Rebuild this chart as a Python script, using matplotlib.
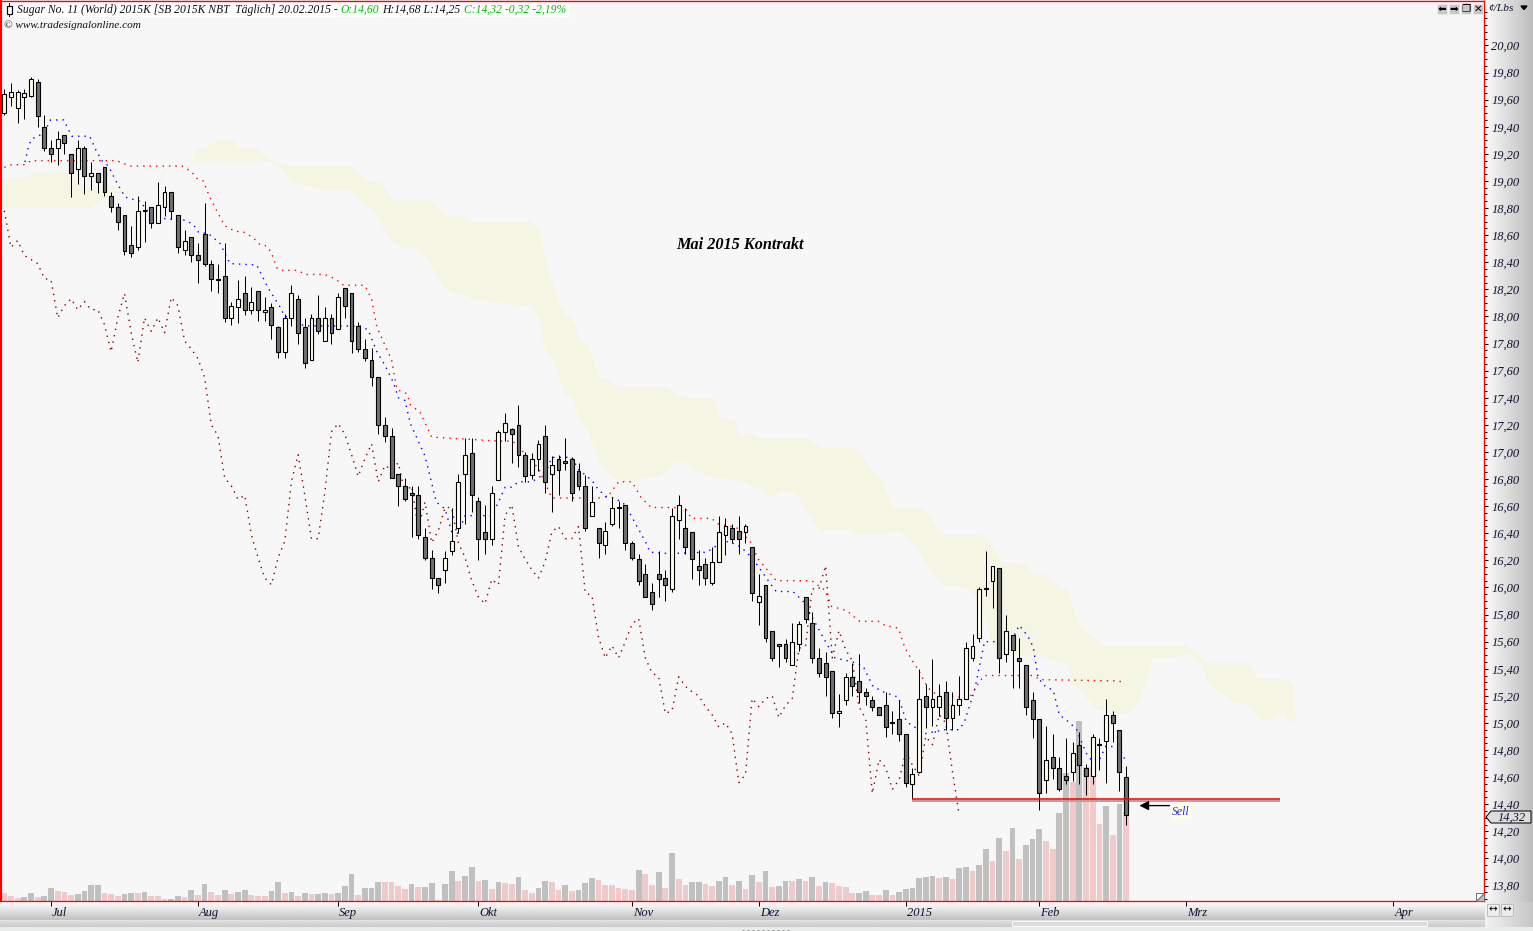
#!/usr/bin/env python
import numpy as np
import matplotlib
matplotlib.use("Agg")
import matplotlib.pyplot as plt
from matplotlib.patches import Polygon, Rectangle
from matplotlib.ticker import FixedLocator, FuncFormatter
from matplotlib.transforms import ScaledTranslation

plt.rcParams['font.family'] = ['Liberation Serif', 'DejaVu Sans']

# daily candles, cents per pound
opens = [19.50,19.62,19.54,19.62,19.63,19.73,19.40,19.24,19.24,19.34,
         19.20,19.09,19.24,19.04,19.06,19.10,18.89,18.81,18.75,18.53,
         18.51,18.78,18.81,18.69,18.81,18.92,18.75,18.49,18.59,18.45,
         18.61,18.39,18.28,18.30,17.99,18.07,18.17,18.05,18.19,18.03,
         18.07,17.92,17.74,17.99,18.13,17.92,17.68,17.99,17.82,17.99,
         17.91,18.21,18.17,17.93,17.76,17.68,17.55,17.20,17.12,16.84,
         16.75,16.70,16.68,16.37,16.22,16.07,16.13,16.27,16.44,16.84,
         16.99,16.64,16.41,16.36,16.79,17.15,17.17,17.20,16.98,16.83,
         16.95,17.12,16.84,16.95,16.93,16.95,16.86,16.75,16.53,16.44,
         16.31,16.47,16.59,16.61,16.33,16.21,16.10,15.97,16.10,16.07,
         15.99,16.50,16.44,16.41,16.16,16.17,16.03,16.19,16.39,16.44,
         16.42,16.41,16.30,15.89,16.02,15.68,15.58,15.58,15.43,15.58,
         15.93,15.74,15.48,15.44,15.38,15.07,15.17,15.34,15.31,15.23,
         15.17,15.12,15.13,15.01,15.03,14.92,14.55,14.64,15.20,15.12,
         15.12,15.23,15.04,15.13,15.18,15.48,15.63,15.99,16.05,16.14,
         15.51,15.65,15.48,15.43,15.17,15.03,14.58,14.75,14.67,14.61,
         14.64,14.84,14.67,14.61,14.84,14.87,15.06,14.95,14.60]
highs = [19.68,19.72,19.67,19.68,19.77,19.75,19.49,19.30,19.37,19.34,
         19.20,19.30,19.26,19.14,19.06,19.10,18.92,18.84,18.75,18.67,
         18.89,18.85,18.81,18.99,18.96,18.92,18.75,18.64,18.59,18.54,
         18.84,18.42,18.39,18.54,18.11,18.27,18.30,18.22,18.19,18.14,
         18.10,17.93,18.02,18.23,18.16,17.99,18.02,18.16,18.07,18.02,
         18.17,18.21,18.17,17.96,17.83,17.77,17.55,17.26,17.18,16.84,
         16.81,16.75,16.75,16.44,16.28,16.07,16.27,16.59,16.84,17.10,
         17.10,16.67,16.61,16.75,17.16,17.29,17.18,17.35,17.00,16.99,
         17.09,17.20,16.97,16.98,17.10,16.96,16.92,16.83,16.75,16.44,
         16.48,16.67,16.64,16.61,16.34,16.25,16.17,16.03,16.27,16.13,
         16.59,16.68,16.59,16.41,16.28,16.22,16.30,16.53,16.51,16.47,
         16.53,16.47,16.30,16.10,16.02,15.68,15.58,15.62,15.74,15.75,
         15.93,15.82,15.55,15.52,15.38,15.21,15.37,15.44,15.51,15.26,
         15.20,15.12,15.23,15.09,15.17,14.92,14.67,15.40,15.29,15.47,
         15.29,15.31,15.23,15.35,15.60,15.66,16.00,16.27,16.16,16.14,
         15.80,15.65,15.63,15.43,15.23,15.03,14.98,14.92,14.75,14.89,
         14.86,14.93,14.70,14.92,14.89,15.18,15.09,14.95,14.68]
lows = [19.49,19.55,19.43,19.46,19.62,19.40,19.22,19.14,19.12,19.20,
        18.88,18.98,18.90,18.93,18.91,18.89,18.77,18.64,18.45,18.44,
        18.49,18.55,18.65,18.69,18.74,18.72,18.47,18.45,18.40,18.25,
        18.37,18.19,18.17,17.96,17.94,17.95,18.01,18.02,17.97,17.97,
        17.83,17.69,17.69,17.93,17.80,17.62,17.68,17.87,17.82,17.80,
        17.91,17.99,17.73,17.74,17.67,17.49,17.13,17.07,16.81,16.60,
        16.64,16.37,16.36,16.20,15.99,15.96,16.03,16.24,16.40,16.47,
        16.56,16.20,16.25,16.31,16.79,17.08,16.92,16.89,16.78,16.80,
        16.86,16.70,16.56,16.68,16.87,16.64,16.72,16.42,16.53,16.22,
        16.25,16.45,16.44,16.28,16.20,16.02,15.93,15.83,15.93,15.90,
        15.97,16.36,16.25,16.06,16.02,16.02,16.02,16.19,16.24,16.33,
        16.25,16.33,15.90,15.72,15.60,15.46,15.41,15.45,15.43,15.53,
        15.74,15.44,15.34,15.20,15.04,14.97,15.13,15.20,15.15,15.13,
        15.09,15.06,14.90,14.92,14.87,14.53,14.44,14.63,14.96,14.98,
        15.05,14.95,14.95,15.06,15.18,15.46,15.60,15.94,15.85,15.37,
        15.45,15.26,15.26,15.06,14.89,14.36,14.48,14.59,14.50,14.55,
        14.57,14.55,14.47,14.55,14.65,14.56,14.86,14.50,14.25]
closes = [19.64,19.66,19.66,19.65,19.75,19.48,19.24,19.20,19.31,19.28,
          19.06,19.24,19.04,19.06,18.99,18.92,18.81,18.70,18.48,18.47,
          18.78,18.78,18.69,18.82,18.92,18.78,18.51,18.56,18.45,18.42,
          18.39,18.28,18.27,17.99,18.08,18.13,18.05,18.11,18.05,18.05,
          17.94,17.74,17.99,18.17,17.88,17.66,17.99,17.89,17.99,17.88,
          18.14,18.08,17.82,17.76,17.69,17.55,17.20,17.12,16.81,16.75,
          16.65,16.68,16.39,16.22,16.07,16.02,16.22,16.34,16.78,16.98,
          16.68,16.36,16.36,16.70,17.15,17.21,17.13,16.98,16.82,16.95,
          17.06,16.78,16.90,16.87,16.92,16.70,16.75,16.44,16.63,16.33,
          16.42,16.59,16.59,16.33,16.22,16.05,15.93,15.88,16.06,16.02,
          16.53,16.61,16.30,16.21,16.13,16.07,16.19,16.41,16.45,16.36,
          16.36,16.45,15.96,15.94,15.63,15.48,15.57,15.48,15.60,15.73,
          15.77,15.48,15.37,15.34,15.07,15.09,15.34,15.27,15.23,15.20,
          15.12,15.06,14.97,15.00,14.92,14.56,14.62,15.18,15.12,15.18,
          15.20,15.04,15.13,15.18,15.55,15.57,15.99,15.99,16.16,15.48,
          15.68,15.54,15.46,15.12,15.03,14.48,14.73,14.67,14.51,14.58,
          14.78,14.69,14.61,14.90,14.84,15.06,15.00,14.64,14.32]

volume = [8,5,3,4,8,4,5,13,10,9,6,7,10,16,16,8,7,5,7,8,
          8,9,5,5,2,2,5,4,11,6,17,9,6,11,7,9,11,6,5,5,
          10,19,8,9,5,8,7,7,8,7,8,15,27,6,13,13,19,19,19,15,
          12,17,14,14,18,1,17,30,20,25,34,20,21,12,19,18,17,24,11,8,
          13,20,19,11,16,10,11,18,23,21,16,16,13,12,11,31,27,16,29,13,
          48,22,16,19,19,17,15,20,24,16,20,12,26,19,30,14,15,20,20,22,
          20,24,15,19,18,15,14,8,8,10,6,6,11,6,9,12,13,23,24,25,
          23,24,22,33,34,30,36,52,40,63,50,73,42,56,62,72,60,52,88,128,
          119,180,134,134,77,95,66,97,89]
vol_down = [1,1,1,0,0,1,0,0,1,1,1,0,0,0,0,1,1,1,0,0,
            1,0,1,1,1,0,0,1,0,1,0,1,1,0,1,0,0,1,1,1,
            0,0,1,0,1,0,1,0,0,1,0,0,0,1,0,0,0,1,1,1,
            1,0,1,0,0,1,0,0,1,0,0,1,0,1,0,1,1,0,1,1,
            0,0,1,1,0,1,0,0,0,1,1,1,1,1,1,0,1,1,0,1,
            0,1,1,0,0,1,1,0,0,1,0,1,0,1,0,1,0,0,1,0,
            1,0,1,0,1,1,1,1,0,0,1,1,0,1,0,0,0,0,0,0,
            1,0,1,0,0,1,0,0,1,0,1,0,1,0,0,0,1,1,0,0,
            1,0,1,1,1,0,1,0,1]

# ichimoku lines, (bar, price)
tenkan_x = [3.1,3.6,4.1,5.9,6.9,8.9,10.1,12.8,13.7,14.6,15.6,16.6,18.1,20.3,21.6,23.3,24.1,27.1,28.3,29.1,
            30.6,32.3,33.8,37.8,38.3,39.5,41.3,42,43.5,44.8,53.3,54.5,55.8,57,58.3,59,60,60.8,62,63,
            63.5,64.7,66,67,68,69,73,74,75,76,77,79,81,82,85,86,88,89,90.2,91.4,
            93,94.2,96,96.7,99.7,105.2,106.4,108.4,109.9,111.2,112.7,114.7,115.6,118.1,119.6,121.1,123.1,124.4,127.1,128.6,
            130.1,131.6,133.9,135.1,137.8,140.8,143,143.8,145.3,146.8,150.8,152,153.3,154.1,154.8,155.6,157.1,158,159.6,160.6,
            162,163,164,165,167,168]
tenkan_y = [19.14,19.25,19.31,19.35,19.45,19.45,19.33,19.33,19.23,19.15,19.11,19.01,18.88,18.85,18.77,18.74,18.72,18.71,18.68,18.62,
            18.61,18.54,18.39,18.38,18.33,18.21,18.07,18.00,17.99,17.93,17.93,17.90,17.74,17.64,17.51,17.40,17.38,17.21,17.08,16.97,
            16.87,16.63,16.58,16.41,16.40,16.53,16.53,16.63,16.74,16.74,16.78,16.78,16.84,16.96,16.96,16.87,16.79,16.72,16.67,16.66,
            16.61,16.50,16.34,16.26,16.25,16.26,16.30,16.34,16.31,16.26,16.17,16.03,15.97,15.97,15.90,15.77,15.59,15.48,15.45,15.42,
            15.27,15.23,15.19,15.01,14.92,14.95,14.95,15.01,15.24,15.60,15.60,15.72,15.64,15.56,15.34,15.28,15.24,15.06,15.00,14.95,
            14.78,14.71,14.73,14.83,14.82,14.71]
kijun_x = [0,1.1,3.1,4,16.8,18.8,26.6,28,28.8,29.8,30.6,31.5,33,34.5,36,37.3,38.3,39.3,40,40.8,
           41.3,44,45,48,49.5,50.8,54,55,55.8,56.8,58,58.8,60.3,60.8,62.3,64,74,76,77,78,
           80,82,89,90.4,92,94,95.4,96.9,101.9,102.9,105.9,106.9,109.7,111.7,112.9,115.6,120.9,122.9,123.9,126.1,
           128.1,130.9,131.9,133.9,134.9,136.1,136.9,138.3,139.8,144.6,146.1,146.8,154.1,155.1,167,167.3]
kijun_y = [19.10,19.12,19.12,19.15,19.15,19.11,19.11,19.07,19.02,19.00,18.90,18.81,18.67,18.63,18.62,18.58,18.53,18.52,18.47,18.36,
           18.34,18.34,18.31,18.31,18.28,18.23,18.23,18.13,17.92,17.81,17.68,17.46,17.43,17.35,17.29,17.11,17.08,17.08,17.05,16.98,
           16.88,16.66,16.66,16.67,16.78,16.78,16.66,16.59,16.59,16.51,16.51,16.47,16.44,16.34,16.21,16.05,16.05,15.98,15.86,15.83,
           15.75,15.75,15.72,15.70,15.55,15.45,15.39,15.26,15.20,15.19,15.31,15.35,15.35,15.32,15.31,15.30]

# cloud edges: first small lobe, then the long band running into the future
lobe_x_top = [-0.5,3,4,6,9.1,9.9,11.3,13.1,14.3,16.3,17.6,19.6,21.4,22.9,24.1,24.8]
lobe_y_top = [19.02,19.02,19.05,19.07,19.07,19.04,18.98,18.96,18.96,18.96,18.93,18.91,18.91,18.98,19.09,19.10]
lobe_x_low = [-0.5,13.1,14.3,16.3,17.6,19.6,21.4,22.9,24.1,24.8]
lobe_y_low = [18.80,18.80,18.85,18.90,18.91,18.90,18.91,18.96,19.07,19.10]
cloud_x_top = [28.1,28.9,30.8,32,34.1,35,37.7,39.8,43,44.3,51.9,53.4,53.9,56.7,58.1,63.9,66,68.7,70.1,78.8,
               80.1,81.6,83.3,85.4,86.1,87.3,89.2,91,92.1,99.3,101.7,106.2,107.2,109.3,110.2,112.3,113.1,120.3,122.2,127.4,
               128.5,129.8,131.2,133.1,137,138.7,140.3,146,148.1,149.2,153.2,154.1,156.2,158.1,159.2,160.4,161.1,164.6,177.2,180.2,
               186.2,187.8,192.2,193.1,193.4]
cloud_y_top = [19.13,19.23,19.26,19.30,19.31,19.24,19.24,19.15,19.11,19.11,19.11,19.05,19.01,18.98,18.86,18.86,18.74,18.74,18.70,18.70,
               18.63,18.33,18.06,17.95,17.83,17.80,17.55,17.52,17.48,17.48,17.40,17.40,17.25,17.24,17.13,17.13,17.10,17.10,17.03,17.03,
               16.99,16.86,16.81,16.59,16.59,16.52,16.39,16.39,16.31,16.19,16.17,16.09,16.09,16.00,15.98,15.81,15.71,15.57,15.57,15.44,
               15.44,15.33,15.32,15.27,15.01]
cloud_x_low = [28.1,28.9,38.3,39.8,41.5,43,44.3,46.7,51.9,53.4,54.8,56.3,58.1,59.6,62,63.5,65.7,67.2,69.2,70.1,
               75.3,78.8,80,81.1,82,84,85.2,86.1,87.7,89.2,92.1,97.8,99.3,100.2,102.1,104.1,106.5,110.2,112.8,114.7,
               117.3,118.8,120.3,122.2,126.7,128.2,132.2,134.2,136.9,137.9,140.2,142.7,144.7,146.5,147.7,148.9,155.2,156.7,159.2,159.9,
               163.7,165.6,168.6,170.1,172.1,175.7,177.2,179.1,180.2,183.6,186.2,188.4,189.6,191.6,192.3,193.4]
cloud_y_low = [19.13,19.15,19.15,19.14,19.10,18.99,18.98,18.94,18.93,18.85,18.81,18.70,18.54,18.51,18.50,18.42,18.22,18.18,18.16,18.13,
               18.09,18.08,17.99,17.75,17.71,17.43,17.40,17.24,17.12,16.90,16.78,16.82,16.85,16.92,16.92,16.85,16.81,16.79,16.73,16.67,
               16.72,16.68,16.55,16.42,16.43,16.39,16.40,16.41,16.28,16.18,16.02,16.01,15.98,15.83,15.61,15.49,15.50,15.47,15.44,15.30,
               15.10,15.07,15.07,15.18,15.48,15.49,15.52,15.45,15.30,15.17,15.13,15.01,15.02,15.08,15.02,15.01]

price_ticks = [13.8,14.0,14.2,14.4,14.6,14.8,15.0,15.2,15.4,15.6,15.8,16.0,16.2,16.4,16.6,16.8,
               17.0,17.2,17.4,17.6,17.8,18.0,18.2,18.4,18.6,18.8,19.0,19.2,19.4,19.6,19.8,20.0]
month_pos = [7,29,50,71,94,113,135,155,177,208]
month_labels = ["Jul","Aug","Sep","Okt","Nov","Dez","2015","Feb","Mrz","Apr"]

support_bars = [136,191]
support_price = 14.44
chikou_shift = 25

W, H = 1533, 931
fig = plt.figure(figsize=(W/100, H/100), dpi=100, facecolor="#e8ecea")
rect = [1/W, (H-901)/H, 1483/W, 900/H]


def pt(px):
    return px*0.72


# window chrome behind the chart
bg = fig.add_axes([0, 0, 1, 1], zorder=0)
gk = dict(cmap="gray", vmin=0, vmax=1, aspect="auto", interpolation="bilinear")
bg.imshow(np.linspace(0.98, 0.74, 48)[None, :], extent=(1485, 1533, 902, 0), **gk)
bg.imshow(np.linspace(1.0, 0.76, 18)[:, None], extent=(0, 1485, 920, 902), **gk)
bg.imshow(np.linspace(0.95, 0.78, 48)[None, :], extent=(1485, 1533, 927, 902), **gk)
bg.imshow(np.linspace(0.88, 0.80, 7)[:, None], extent=(0, 1485, 927, 920), **gk)
bg.add_patch(Rectangle((1012, 921), 415, 5, fc="#dcdcdc", ec="#f8f8f8", lw=pt(1)))
bg.add_patch(Rectangle((1, 1), 1483, 900, fc="#f7f7f7", ec="none"))
bg.set_xlim(0, W)
bg.set_ylim(H, 0)
bg.axis("off")

# volume sits on its own axes under the candles
n = len(closes)
bars = np.arange(n)
xlim = (-0.494, 221.6)
ylim = (13.686, 20.328)
vol_ax = fig.add_axes(rect, zorder=1)
vol_cols = ["#eecaca" if d else "#c0c0c0" for d in vol_down]
vol_ax.bar(bars, volume, width=0.86, color=vol_cols, linewidth=0, antialiased=False)
vol_ax.set_xlim(xlim)
vol_ax.set_ylim(0, 900)
vol_ax.axis("off")

ax = fig.add_axes(rect, zorder=2)
ax.patch.set_visible(False)

# kumo
lobe = list(zip(lobe_x_top, lobe_y_top)) + list(zip(lobe_x_low, lobe_y_low))[::-1]
cloud = list(zip(cloud_x_top, cloud_y_top)) + list(zip(cloud_x_low, cloud_y_low))[::-1]
ax.add_patch(Polygon(lobe, closed=True, fc="#f5f5e3", ec="none", zorder=1))
ax.add_patch(Polygon(cloud, closed=True, fc="#f5f5e3", ec="none", zorder=1))

# dotted lines
dots = (0, (1, 3.6))
ax.plot(tenkan_x, tenkan_y, color="#0000ff", lw=pt(1.4), ls=dots, zorder=2)
ax.plot(kijun_x, kijun_y, color="#ff0000", lw=pt(1.4), ls=dots, zorder=2)
ax.plot(bars[:n-chikou_shift], closes[chikou_shift:], color="#8b0000", lw=pt(1.4), ls=dots, zorder=2)

# candles
opens_a, closes_a = np.array(opens), np.array(closes)
up = closes_a > opens_a
ax.vlines(bars, lows, highs, color="black", lw=pt(1), zorder=3)
body_low = np.minimum(opens_a, closes_a)
body_h = np.maximum(np.abs(closes_a-opens_a), 0.005)
ax.bar(bars[up], body_h[up], bottom=body_low[up], width=0.58, color="#fffff0",
       edgecolor="black", linewidth=pt(1.1), zorder=4)
ax.bar(bars[~up], body_h[~up], bottom=body_low[~up], width=0.58, color="#707070",
       edgecolor="black", linewidth=pt(1.1), zorder=4)

# drawn support line with its shadow
ax.plot(support_bars, [support_price-0.013]*2, color="#a8a8a8", lw=pt(2), zorder=2.5,
        solid_capstyle="butt")
ax.plot(support_bars, [support_price]*2, color="#ff0000", lw=pt(1.6), zorder=5,
        solid_capstyle="butt")
ax.annotate("", xy=(170, 14.39), xytext=(174.5, 14.39), zorder=6,
            arrowprops=dict(arrowstyle="-|>,head_length=0.55,head_width=0.28",
                            color="black", lw=pt(1.3), shrinkA=0, shrinkB=0))
ax.text(174.9, 14.345, "Sell", color="#2222dd", style="italic", fontsize=8.5,
        ha="left", va="center", zorder=6,
        bbox=dict(fc="#ffffe8", ec="none", pad=1.2))
ax.text(110.1, 18.525, "Mai 2015 Kontrakt", color="black", style="italic", weight="bold",
        fontsize=11.7, ha="center", va="center", zorder=6)

ax.set_xlim(xlim)
ax.set_ylim(ylim)
for side, w in (("left", 2), ("right", 1.3), ("top", 1.3), ("bottom", 1.3)):
    ax.spines[side].set_color("#ff0000")
    ax.spines[side].set_linewidth(pt(w))

# price scale on the right, comma decimals
ax.yaxis.tick_right()
ax.yaxis.set_major_locator(FixedLocator(price_ticks))
ax.yaxis.set_minor_locator(FixedLocator(np.arange(13.7, 20.26, 0.05)))
ax.yaxis.set_major_formatter(FuncFormatter(lambda v, pos: f"{v:.2f}".replace(".", ",")))
ax.tick_params(axis="y", which="major", direction="out", length=3.2, width=pt(1), pad=2,
               labelsize=9, labelcolor="#101030")
ax.tick_params(axis="y", which="minor", direction="out", length=2.2, width=pt(1))
for lab in ax.get_yticklabels():
    lab.set_fontstyle("italic")

ax.set_xticks(month_pos)
ax.set_xticklabels(month_labels, ha="left", style="italic", fontsize=9, color="#101030")
ax.tick_params(axis="x", direction="out", length=3.5, width=pt(1), pad=0.8)
nudge = ScaledTranslation(1/100, 0, fig.dpi_scale_trans)
for lab in ax.get_xticklabels():
    lab.set_transform(lab.get_transform()+nudge)

# header and buttons drawn in pixel space
ui = fig.add_axes([0, 0, 1, 1], zorder=3)
ui.set_xlim(0, W)
ui.set_ylim(H, 0)
ui.axis("off")

ui.add_patch(Rectangle((3, 3), 567, 14, fc="white", ec="none"))
ui.plot([9, 9], [3, 16], color="black", lw=pt(1))
ui.add_patch(Rectangle((6.5, 5.5), 5, 8, fc="white", ec="black", lw=pt(1.2), zorder=3))

renderer = fig.canvas.get_renderer()
head_x = 17
head_parts = [("Sugar No. 11 (World) 2015K [SB 2015K NBT  Täglich] 20.02.2015 -", "#101010"),
              ("O:14,60", "#00c000"),
              ("H:14,68 L:14,25", "#101010"),
              ("C:14,32 -0,32 -2,19%", "#00c000")]
for s, col in head_parts:
    t = ui.text(head_x, 9.7, s, color=col, style="italic", fontsize=8.4, ha="left", va="center")
    head_x = ui.transData.inverted().transform(t.get_window_extent(renderer).get_points())[1, 0]+3
ui.text(4, 25, "© www.tradesignalonline.com", color="#101010", style="italic", fontsize=8.1,
        ha="left", va="center")

for bx, glyph in zip((1437, 1449, 1461, 1473), ("⬅", "➡", "❐", "✕")):
    ui.add_patch(Rectangle((bx, 4), 10, 10, fc="#c8c8c8", ec="#e8e8e8", lw=pt(1)))
    ui.text(bx+5, 9, glyph, family="DejaVu Sans", fontsize=7.5, ha="center", va="center", color="black")

ui.text(1488, 8.5, "¢/Lbs", style="italic", fontsize=8.2, color="#101030", ha="left", va="center")
ui.fill([1521, 1527, 1524], [6, 6, 9.5], color="black")

# last price tag
ui.add_patch(Polygon([(1486, 817), (1491, 811), (1531, 811), (1531, 823), (1491, 823)],
                     closed=True, fc="#dcdcdc", ec="black", lw=pt(1)))
ui.text(1526, 817.3, "14,32", style="italic", fontsize=9, color="#101030", ha="right", va="center")

# corner grip and zoom buttons
ui.add_patch(Polygon([(1476, 901), (1476, 893), (1484, 893)], closed=True, fc="white", ec="#707070", lw=pt(1)))
ui.add_patch(Polygon([(1476, 901), (1484, 901), (1484, 893)], closed=True, fc="#c0c0c0", ec="#707070", lw=pt(1)))
for bx in (1487, 1501):
    ui.add_patch(Rectangle((bx, 904), 12, 12, fc="#ececec", ec="#bdbdbd", lw=pt(1)))
    ui.text(bx+6, 909.5, "↔", family="DejaVu Sans", fontsize=7.5, ha="center", va="center", color="black")
ui.plot([742, 790], [930, 930], color="#909090", lw=pt(1), ls=(0, (2, 3)))

plt.savefig("out.png", dpi=100, facecolor=fig.get_facecolor())
plt.close()
